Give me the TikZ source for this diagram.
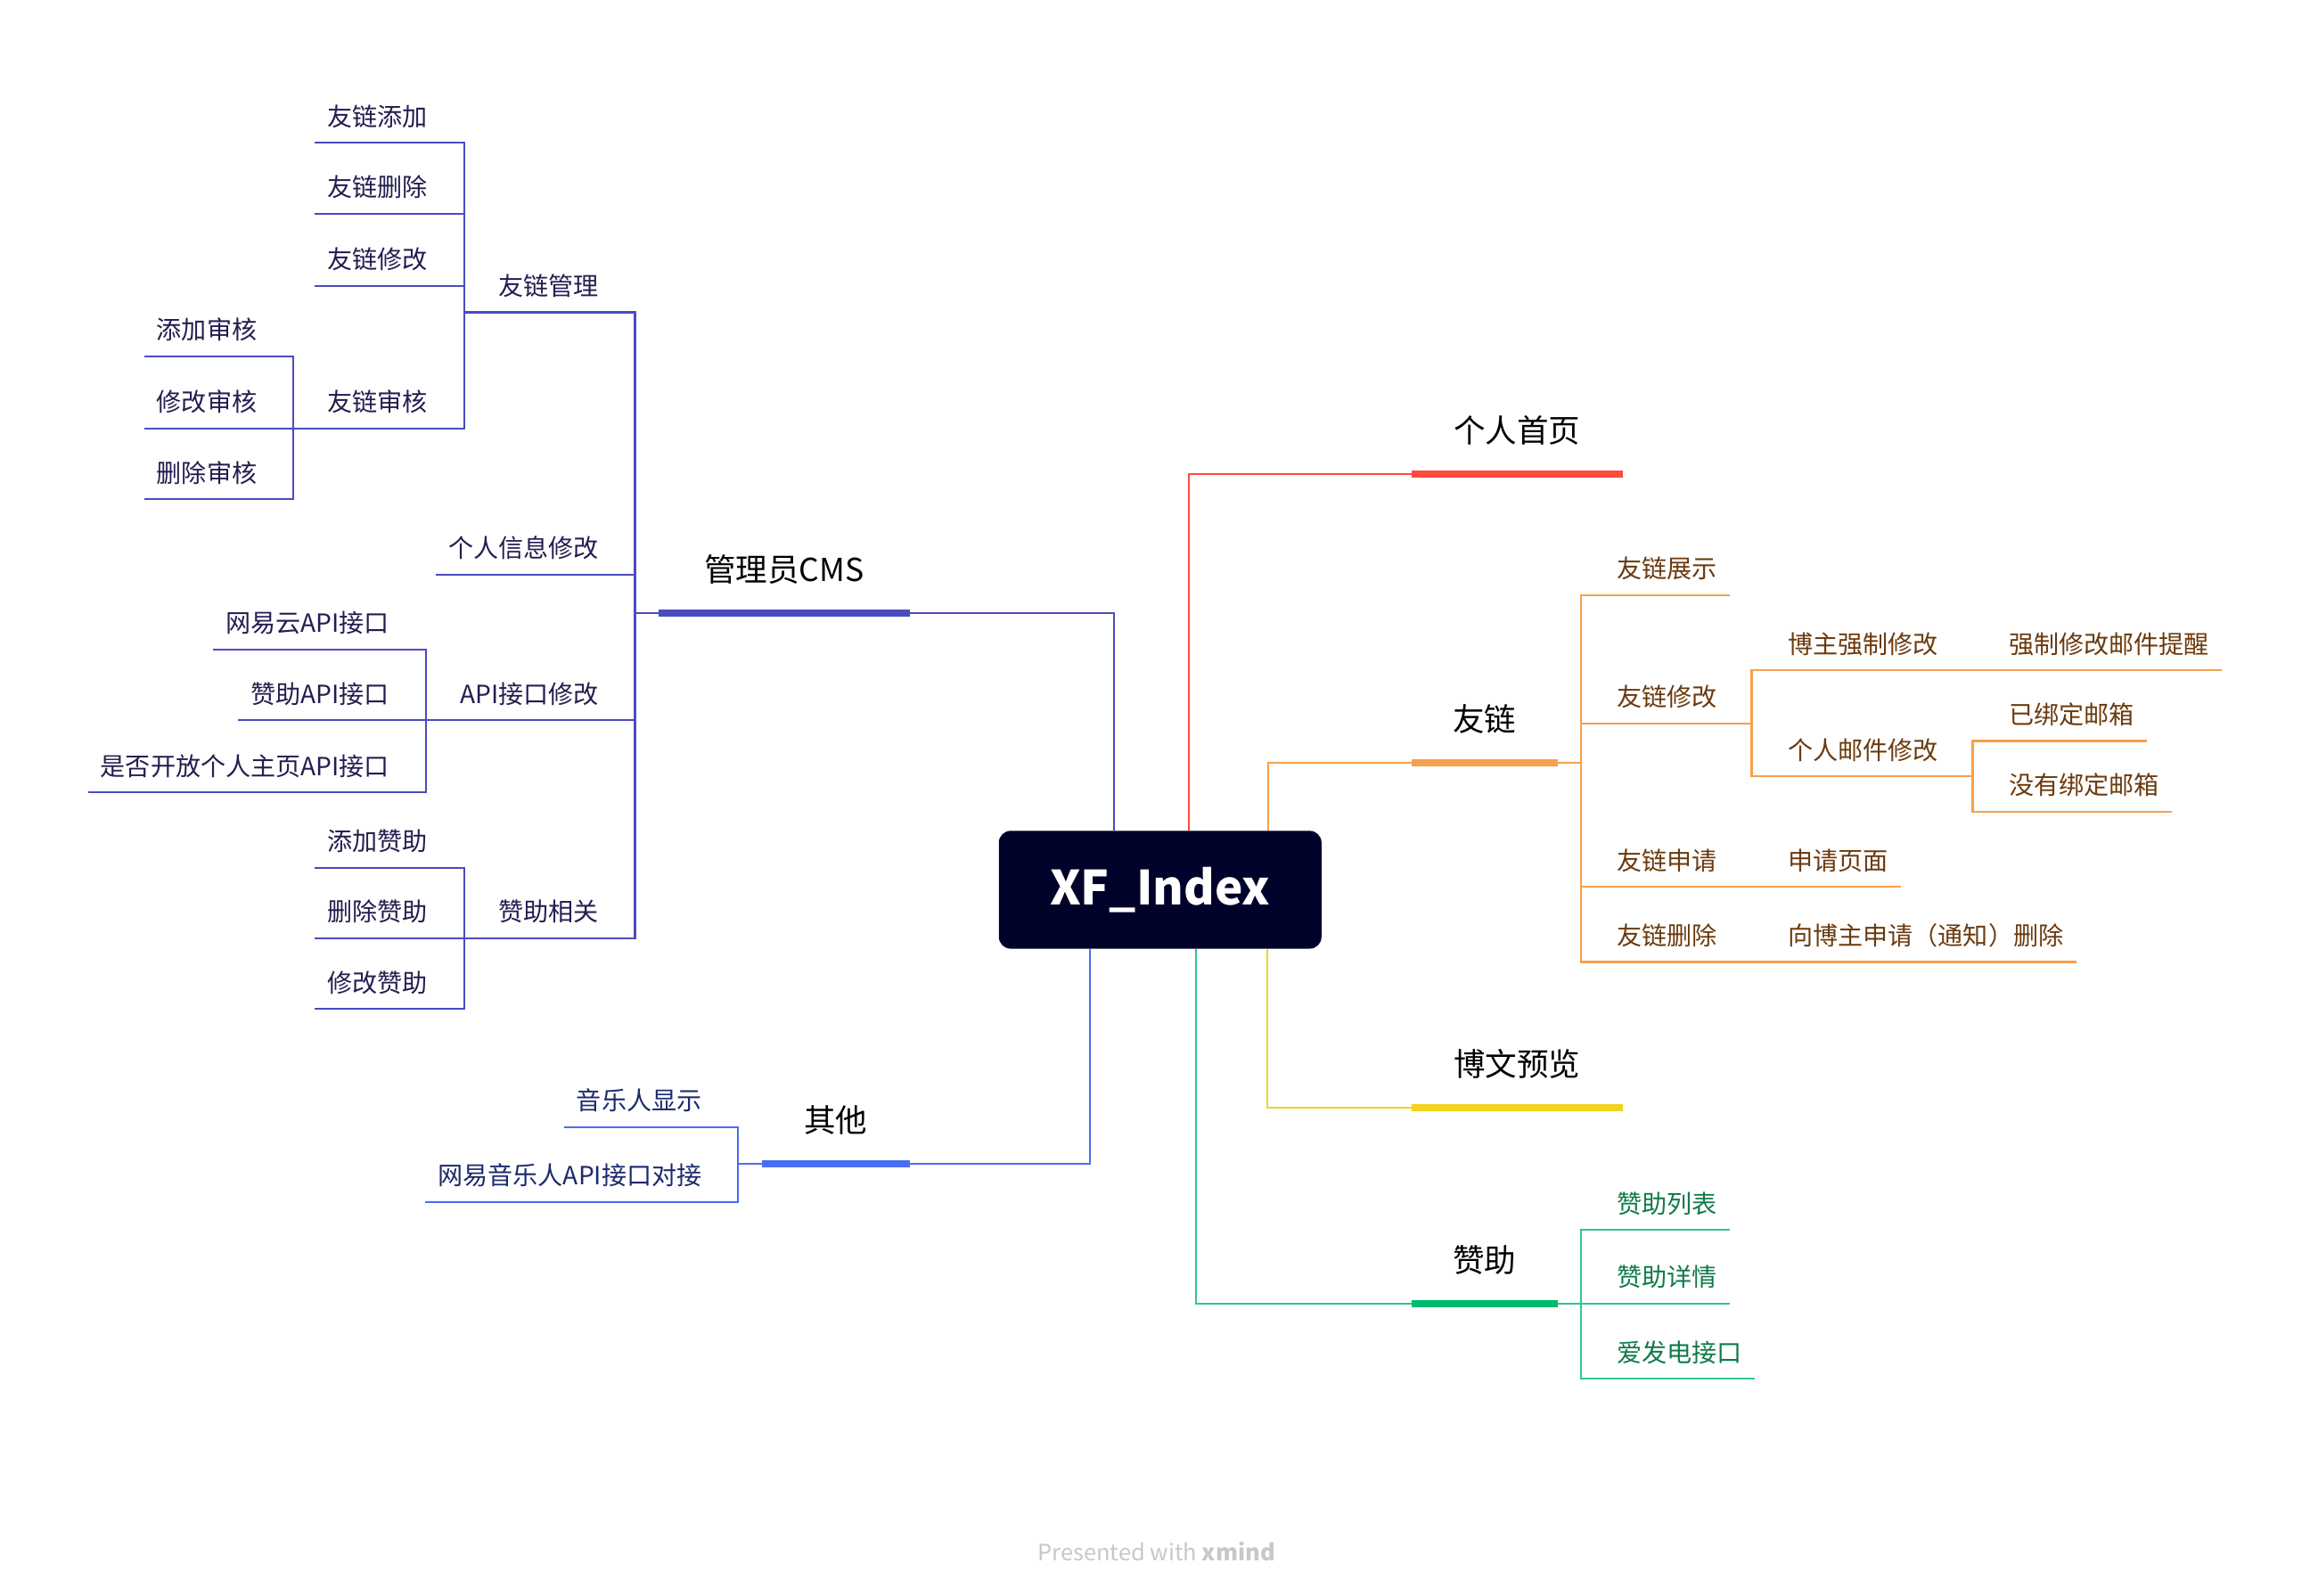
\documentclass[tikz,border=0pt]{standalone}
\usepackage{fontspec}
\setmainfont{Noto Sans CJK SC}
\definecolor{Navy}{HTML}{000229}
\definecolor{Tomato}{HTML}{FF4A3D}
\definecolor{Indigo}{HTML}{4B4BBF}
\definecolor{Ink}{HTML}{221E4F}
\definecolor{Azure}{HTML}{4A6EF2}
\definecolor{Deep}{HTML}{1B2A6B}
\definecolor{Apricot}{HTML}{F7A04C}
\definecolor{Umber}{HTML}{6B3A0E}
\definecolor{Gold}{HTML}{F1D320}
\definecolor{Jade}{HTML}{00BA6F}
\definecolor{Mint}{HTML}{2FC78E}
\definecolor{Forest}{HTML}{0F7A48}
\definecolor{Foot}{HTML}{C8C8C8}

\begin{document}
\begin{tikzpicture}[
  x={(1pt,0)}, y={(0,-1pt)},
  root/.style={fill=Navy,rounded corners=8pt,minimum width=219,minimum height=80,text=white,font=\fontsize{32}{36}\selectfont\bfseries},
  topic/.style={anchor=south west,inner xsep=0,inner ysep=17,text height=17.2,text depth=4.3,font=\fontsize{21.5}{26}\selectfont},
  sub/.style={inner xsep=8,inner ysep=7.5,text height=13.6,text depth=3.4,font=\fontsize{17}{20}\selectfont},
  lsub/.style={sub,anchor=south east},
  rsub/.style={sub,anchor=south west},
  wire/.style={line width=1.3},
  bar/.style={line width=5}
]
\useasboundingbox (0,0) rectangle (1568,1083);

% central topic and main branches
\node[root] (root) at (787.5,604) {XF\_Index};
\node[topic,minimum width=143] (home) at (958,322) {个人首页};
\node[topic,minimum width=170] (cms) at (447,416) {管理员CMS};
\node[topic,minimum width=99] (link) at (958,518) {友链};
\node[topic,minimum width=143] (blog) at (958,752) {博文预览};
\node[topic,minimum width=99] (sponsor) at (958,885) {赞助};
\node[topic,minimum width=100] (other) at (517,790) {其他};

\draw[wire,draw=Tomato] ([xshift=19.5pt]root.north) |- (home.south west);
\draw[wire,draw=Indigo] ([xshift=-31.5pt]root.north) |- (cms.south east);
\draw[wire,draw=Apricot] ([xshift=73.5pt]root.north) |- (link.south west);
\draw[wire,draw=Gold] ([xshift=72.5pt]root.south) |- (blog.south west);
\draw[wire,draw=Mint] ([xshift=24.5pt]root.south) |- (sponsor.south west);
\draw[wire,draw=Azure] ([xshift=-47.5pt]root.south) |- (other.south east);

\draw[bar,draw=Tomato] (home.south west) -- (home.south east);
\draw[bar,draw=Indigo] (cms.south west) -- (cms.south east);
\draw[bar,draw=Apricot] (link.south west) -- (link.south east);
\draw[bar,draw=Gold] (blog.south west) -- (blog.south east);
\draw[bar,draw=Jade] (sponsor.south west) -- (sponsor.south east);
\draw[bar,draw=Azure] (other.south west) -- (other.south east);

% 管理员CMS
\begin{scope}[nodes={text=Ink},every path/.style={wire,draw=Indigo}]
\node[lsub] (mgmt) at (415,212) {友链管理};
\node[lsub] (ladd) at (299,97) {友链添加};
\node[lsub] (ldel) at (299,145) {友链删除};
\node[lsub] (ledit) at (299,194) {友链修改};
\node[lsub] (laudit) at (299,291) {友链审核};
\node[lsub] (aadd) at (183,242) {添加审核};
\node[lsub] (aedit) at (183,291) {修改审核};
\node[lsub] (adel) at (183,339) {删除审核};
\node[lsub] (info) at (415,390) {个人信息修改};
\node[lsub] (api) at (415,489) {API接口修改};
\node[lsub] (apinet) at (273,441) {网易云API接口};
\node[lsub] (apispon) at (273,489) {赞助API接口};
\node[lsub] (apiopen) at (273,538) {是否开放个人主页API接口};
\node[lsub] (spon) at (415,637) {赞助相关};
\node[lsub] (sadd) at (299,589) {添加赞助};
\node[lsub] (sdel) at (299,637) {删除赞助};
\node[lsub] (sedit) at (299,685) {修改赞助};

\draw (mgmt.south west) -- (mgmt.south east) -- ++(16,0) |- (cms.south west);
\draw (info.south west) -- (info.south east) -- ++(16,0) |- (cms.south west);
\draw (api.south west) -- (api.south east) -- ++(16,0) |- (cms.south west);
\draw (spon.south west) -- (spon.south east) -- ++(16,0) |- (cms.south west);
\draw (ladd.south west) -- (ladd.south east) -- ++(16,0) |- (mgmt.south west);
\draw (ldel.south west) -- (ldel.south east) -- ++(16,0) |- (mgmt.south west);
\draw (ledit.south west) -- (ledit.south east) -- ++(16,0) |- (mgmt.south west);
\draw (laudit.south west) -- (laudit.south east) -- ++(16,0) |- (mgmt.south west);
\draw (aadd.south west) -- (aadd.south east) -- ++(16,0) |- (laudit.south west);
\draw (aedit.south west) -- (aedit.south east) -- ++(16,0) |- (laudit.south west);
\draw (adel.south west) -- (adel.south east) -- ++(16,0) |- (laudit.south west);
\draw (apinet.south west) -- (apinet.south east) -- ++(16,0) |- (api.south west);
\draw (apispon.south west) -- (apispon.south east) -- ++(16,0) |- (api.south west);
\draw (apiopen.south west) -- (apiopen.south east) -- ++(16,0) |- (api.south west);
\draw (sadd.south west) -- (sadd.south east) -- ++(16,0) |- (spon.south west);
\draw (sdel.south west) -- (sdel.south east) -- ++(16,0) |- (spon.south west);
\draw (sedit.south west) -- (sedit.south east) -- ++(16,0) |- (spon.south west);
\end{scope}

% 其他
\begin{scope}[nodes={text=Deep},every path/.style={wire,draw=Azure}]
\node[lsub] (music) at (485,765) {音乐人显示};
\node[lsub] (musicapi) at (485,816) {网易音乐人API接口对接};
\draw (music.south west) -- (music.south east) -- ++(16,0) |- (other.south west);
\draw (musicapi.south west) -- (musicapi.south east) -- ++(16,0) |- (other.south west);
\end{scope}

% 友链
\begin{scope}[nodes={text=Umber},every path/.style={wire,draw=Apricot}]
\node[rsub] (show) at (1089,404) {友链展示};
\node[rsub] (modify) at (1089,491) {友链修改};
\node[rsub] (force) at (1205,455) {博主强制修改};
\node[rsub] (mail) at (1355,455) {强制修改邮件提醒};
\node[rsub] (pmail) at (1205,527) {个人邮件修改};
\node[rsub] (bound) at (1355,503) {已绑定邮箱};
\node[rsub] (unbound) at (1355,551) {没有绑定邮箱};
\node[rsub] (apply) at (1089,602) {友链申请};
\node[rsub] (page) at (1205,602) {申请页面};
\node[rsub] (remove) at (1089,653) {友链删除};
\node[rsub] (notify) at (1205,653) {向博主申请（通知）删除};

\draw (show.south east) -- (show.south west) -- ++(-16,0) |- (link.south east);
\draw (modify.south east) -- (modify.south west) -- ++(-16,0) |- (link.south east);
\draw (apply.south east) -- (apply.south west) -- ++(-16,0) |- (link.south east);
\draw (remove.south east) -- (remove.south west) -- ++(-16,0) |- (link.south east);
\draw (force.south east) -- (force.south west) -- ++(-16,0) |- (modify.south east);
\draw (pmail.south east) -- (pmail.south west) -- ++(-16,0) |- (modify.south east);
\draw (mail.south east) -- (mail.south west) -- (force.south east);
\draw (bound.south east) -- (bound.south west) -- ++(-16,0) |- (pmail.south east);
\draw (unbound.south east) -- (unbound.south west) -- ++(-16,0) |- (pmail.south east);
\draw (page.south east) -- (page.south west) -- (apply.south east);
\draw (notify.south east) -- (notify.south west) -- (remove.south east);
\end{scope}

% 赞助
\begin{scope}[nodes={text=Forest},every path/.style={wire,draw=Mint}]
\node[rsub] (slist) at (1089,835) {赞助列表};
\node[rsub] (sdetail) at (1089,885) {赞助详情};
\node[rsub] (afdian) at (1089,936) {爱发电接口};
\draw (slist.south east) -- (slist.south west) -- ++(-16,0) |- (sponsor.south east);
\draw (sdetail.south east) -- (sdetail.south west) -- ++(-16,0) |- (sponsor.south east);
\draw (afdian.south east) -- (afdian.south west) -- ++(-16,0) |- (sponsor.south east);
\end{scope}

\node[text=Foot,font=\fontsize{15.4}{18}\selectfont] (credit) at (785,1053) {Presented with \textbf{xmind}};
\end{tikzpicture}
\end{document}
